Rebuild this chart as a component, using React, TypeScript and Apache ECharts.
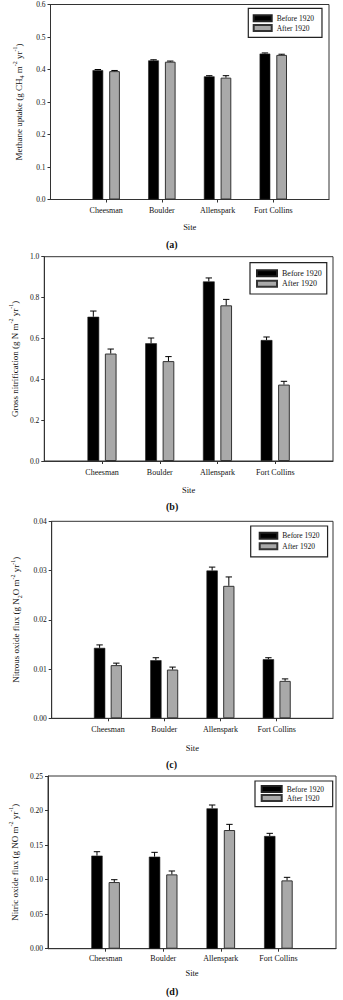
import React, { useEffect, useRef } from "react";
import * as echarts from "echarts";

const sites = ["", "Cheesman", "Boulder", "Allenspark", "Fort Collins", ""];

const methaneBefore = [0.398, 0.428, 0.379, 0.449];
const methaneAfter = [0.395, 0.424, 0.375, 0.445];
const methaneBeforeErr = [0.002, 0.002, 0.002, 0.002];
const methaneAfterErr = [0.002, 0.002, 0.006, 0.002];

const nitrifBefore = [0.706, 0.576, 0.879, 0.592];
const nitrifAfter = [0.526, 0.489, 0.762, 0.374];
const nitrifBeforeErr = [0.028, 0.026, 0.017, 0.015];
const nitrifAfterErr = [0.022, 0.022, 0.029, 0.016];

const n2oBefore = [0.0143, 0.0118, 0.03, 0.012];
const n2oAfter = [0.0108, 0.0099, 0.0269, 0.0076];
const n2oBeforeErr = [0.0006, 0.0005, 0.0007, 0.0003];
const n2oAfterErr = [0.0004, 0.0005, 0.0018, 0.0004];

const noBefore = [0.1347, 0.1332, 0.2032, 0.1631];
const noAfter = [0.0965, 0.1076, 0.1718, 0.0989];
const noBeforeErr = [0.0057, 0.0063, 0.0048, 0.0039];
const noAfterErr = [0.0034, 0.0049, 0.0082, 0.0044];

const FONT = "'Liberation Serif', 'Times New Roman', serif";

const panels = [
  {
    label: "(a)", labelY: 245, siteGap: 23, catMargin: 7,
    grid: { left: 50.5, top: 4.5, width: 278.5, height: 195 },
    min: 0, max: 0.6, interval: 0.1, decimals: 1, nameGap: 22,
    name: "{t|Methane uptake (g CH}{sub|4}{t| m}{sup|-2}{t| yr}{sup|-1}{t|)}",
    before: methaneBefore, after: methaneAfter, beforeErr: methaneBeforeErr, afterErr: methaneAfterErr,
    bw: 10.7, gap: 6,
    legend: { left: 248.3, top: 8.3, padding: [5.5, 8, 4.8, 4.4], itemWidth: 18, itemGap: 0.7, fontSize: 7.5 },
  },
  {
    label: "(b)", labelY: 507.3, siteGap: 24, catMargin: 7.5,
    grid: { left: 41.7, top: 256.7, width: 291.3, height: 204.3 },
    min: 0, max: 1.0, interval: 0.2, decimals: 1, nameGap: 22,
    name: "{t|Gross nitrification (g N m}{sup|-2}{t| yr}{sup|-1}{t|)}",
    before: nitrifBefore, after: nitrifAfter, beforeErr: nitrifBeforeErr, afterErr: nitrifAfterErr,
    bw: 11.7, gap: 5.7,
    legend: { left: 250, top: 262.7, padding: [6.1, 5, 5.8, 6], itemWidth: 20, itemGap: 1.4, fontSize: 8 },
  },
  {
    label: "(c)", labelY: 765.7, siteGap: 25, catMargin: 7.5,
    grid: { left: 51.7, top: 521.3, width: 281.3, height: 197 },
    min: 0, max: 0.04, interval: 0.01, decimals: 2, nameGap: 28,
    name: "{t|Nitrous oxide flux (g N}{sub|2}{t|O m}{sup|-2}{t| yr}{sup|-1}{t|)}",
    before: n2oBefore, after: n2oAfter, beforeErr: n2oBeforeErr, afterErr: n2oAfterErr,
    bw: 11.3, gap: 5.4,
    legend: { left: 250.7, top: 526, padding: [5.2, 8, 6, 8], itemWidth: 17.6, itemGap: 1.6, fontSize: 7.5 },
  },
  {
    label: "(d)", labelY: 992.7, siteGap: 20, catMargin: 6,
    grid: { left: 41.7, top: 776, width: 294.3, height: 172.7 },
    min: 0, max: 0.25, interval: 0.05, decimals: 2, nameGap: 25,
    name: "{t|Nitric oxide flux (g NO m}{sup|-2}{t| yr}{sup|-1}{t|)}",
    before: noBefore, after: noAfter, beforeErr: noBeforeErr, afterErr: noAfterErr,
    bw: 11.3, gap: 6,
    legend: { left: 255, top: 781, padding: [3.5, 8.7, 4.2, 5.7], itemWidth: 20, itemGap: 0, fontSize: 7.5 },
  },
];

const errRender = (offset: number) => (params: any, api: any) => {
  const base = api.coord([api.value(0), api.value(1)]);
  const top = api.coord([api.value(0), api.value(2)]);
  const cx = base[0] + offset;
  return {
    type: "group",
    children: [
      { type: "line", shape: { x1: cx, y1: base[1], x2: cx, y2: top[1] }, style: { stroke: "#000", lineWidth: 1 } },
      { type: "line", shape: { x1: cx - 3.2, y1: top[1], x2: cx + 3.2, y2: top[1] }, style: { stroke: "#000", lineWidth: 1 } },
    ],
  };
};

export default function App() {
  const ref = useRef<HTMLDivElement>(null);
  useEffect(() => {
    if (!ref.current) return;
    const chart = echarts.init(ref.current, undefined, { renderer: "svg" });
    const grid: any[] = [];
    const xAxis: any[] = [];
    const yAxis: any[] = [];
    const series: any[] = [];
    const legend: any[] = [];
    const graphic: any[] = [];

    panels.forEach((p, i) => {
      grid.push({ ...p.grid, show: true, borderColor: "#333", borderWidth: 1, backgroundColor: "transparent", containLabel: false });
      xAxis.push({
        type: "category", gridIndex: i, data: sites, boundaryGap: false,
        name: "Site", nameLocation: "middle", nameGap: p.siteGap,
        nameTextStyle: { fontFamily: FONT, fontSize: 8.5, color: "#111" },
        axisLine: { lineStyle: { color: "#333", width: 1 } },
        axisTick: { show: true, inside: false, length: 3, interval: (idx: number) => idx >= 1 && idx <= 4, lineStyle: { color: "#333" } },
        axisLabel: { interval: 0, fontFamily: FONT, fontSize: 8, color: "#111", margin: p.catMargin },
        splitLine: { show: false },
      });
      yAxis.push({
        type: "value", gridIndex: i, min: p.min, max: p.max, interval: p.interval,
        name: p.name, nameLocation: "middle", nameRotate: 90, nameGap: p.nameGap,
        nameTextStyle: {
          fontFamily: FONT, fontSize: 9, color: "#111",
          rich: {
            t: { fontFamily: FONT, fontSize: 9, color: "#111", lineHeight: 13 },
            sub: { fontFamily: FONT, fontSize: 6, color: "#111", lineHeight: 6.5, verticalAlign: "bottom" },
            sup: { fontFamily: FONT, fontSize: 6, color: "#111", lineHeight: 6.5, verticalAlign: "top" },
          },
        },
        axisLine: { show: true, lineStyle: { color: "#333", width: 1 } },
        axisTick: { show: true, inside: false, length: 3, lineStyle: { color: "#333" } },
        axisLabel: { fontFamily: FONT, fontSize: 7.5, color: "#111", margin: 5, formatter: (v: number) => v.toFixed(p.decimals) },
        splitLine: { show: false },
      });
      const off = (p.bw + p.gap) / 2;
      series.push({
        type: "bar", name: "Before 1920", xAxisIndex: i, yAxisIndex: i,
        data: ["-", ...p.before, "-"], barWidth: p.bw, barGap: ((p.gap / p.bw) * 100).toFixed(1) + "%",
        itemStyle: { color: "#000", borderColor: "#222", borderWidth: 0.6 },
      });
      series.push({
        type: "bar", name: "After 1920", xAxisIndex: i, yAxisIndex: i,
        data: ["-", ...p.after, "-"], barWidth: p.bw,
        itemStyle: { color: "#a9a9a9", borderColor: "#333", borderWidth: 1 },
      });
      series.push({
        type: "custom", xAxisIndex: i, yAxisIndex: i, z: 5, silent: true,
        renderItem: errRender(-off),
        data: p.before.map((v, k) => [k + 1, v, v + p.beforeErr[k]]),
      });
      series.push({
        type: "custom", xAxisIndex: i, yAxisIndex: i, z: 5, silent: true,
        renderItem: errRender(off),
        data: p.after.map((v, k) => [k + 1, v, v + p.afterErr[k]]),
      });
      legend.push({
        data: ["Before 1920", "After 1920"], orient: "vertical",
        left: p.legend.left, top: p.legend.top, padding: p.legend.padding,
        itemWidth: p.legend.itemWidth, itemHeight: 6, itemGap: p.legend.itemGap,
        icon: "rect", selectedMode: false,
        borderColor: "#222", borderWidth: 1.2, backgroundColor: "#fff",
        textStyle: { fontFamily: FONT, fontSize: p.legend.fontSize, color: "#111", lineHeight: 9 },
      });
      graphic.push({
        type: "text", left: 166, top: p.labelY - 6,
        style: { text: p.label, fontFamily: FONT, fontSize: 10, fontWeight: "bold", fill: "#111" },
      });
    });

    chart.setOption({
      animation: false,
      backgroundColor: "#fff",
      grid, xAxis, yAxis, series, legend, graphic,
    });
    return () => chart.dispose();
  }, []);
  return <div ref={ref} style={{ position: "absolute", left: 0, top: 0, width: 343, height: 1000 }} />;
}
